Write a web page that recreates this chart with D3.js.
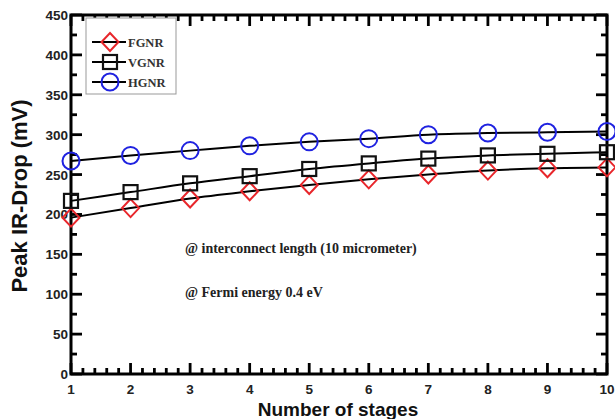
<!DOCTYPE html>
<html>
<head>
<meta charset="utf-8">
<script src="https://cdn.jsdelivr.net/npm/d3@7"></script>
<style>
  body { margin: 0; background: #fff; }
  svg { display: block; }
  .sans { font-family: "Liberation Sans", Arial, sans-serif; font-weight: bold; }
  .serif { font-family: "Liberation Serif", "Times New Roman", serif; font-weight: bold; }
</style>
</head>
<body>
<svg id="chart" width="615" height="419"></svg>
<script>
// data
const stages = [1, 2, 3, 4, 5, 6, 7, 8, 9, 10];
const fgnr = [196, 208, 220, 229, 237, 244, 250, 255, 258, 259];
const vgnr = [217, 228, 239, 248, 257, 264, 270, 274, 276, 278];
const hgnr = [267, 274, 280, 286, 291, 295, 300, 302, 303, 304];
const yTicks = [0, 50, 100, 150, 200, 250, 300, 350, 400, 450];
const xTicks = [1, 2, 3, 4, 5, 6, 7, 8, 9, 10];

const width = 615, height = 419;
const margin = { left: 71, right: 8, top: 15, bottom: 45 };

const svg = d3.select("#chart");

const x = d3.scaleLinear().domain([1, 10]).range([margin.left, width - margin.right]);
const y = d3.scaleLinear().domain([0, 450]).range([height - margin.bottom, margin.top]);

const x0 = x.range()[0], x1 = x.range()[1];
const y0 = y.range()[0], y1 = y.range()[1];

// ticks (all pointing inward)
const xMinor = d3.range(1, 10.001, 0.2).filter(v => Math.abs(v - Math.round(v)) > 0.01);
const yMinor = d3.range(25, 450, 50);
const tk = svg.append("g").attr("stroke", "#000").attr("stroke-width", 2.8);

xTicks.forEach(v => {
  tk.append("line").attr("x1", x(v)).attr("x2", x(v)).attr("y1", y0).attr("y2", y0 - 11);
  tk.append("line").attr("x1", x(v)).attr("x2", x(v)).attr("y1", y1).attr("y2", y1 + 11);
});
xMinor.forEach(v => {
  tk.append("line").attr("x1", x(v)).attr("x2", x(v)).attr("y1", y0).attr("y2", y0 - 6);
  tk.append("line").attr("x1", x(v)).attr("x2", x(v)).attr("y1", y1).attr("y2", y1 + 6);
});
yTicks.forEach(v => {
  tk.append("line").attr("x1", x0).attr("x2", x0 + 11).attr("y1", y(v)).attr("y2", y(v));
  tk.append("line").attr("x1", x1).attr("x2", x1 - 11).attr("y1", y(v)).attr("y2", y(v));
});
yMinor.forEach(v => {
  tk.append("line").attr("x1", x0).attr("x2", x0 + 6).attr("y1", y(v)).attr("y2", y(v));
  tk.append("line").attr("x1", x1).attr("x2", x1 - 6).attr("y1", y(v)).attr("y2", y(v));
});

// frame
svg.append("rect")
  .attr("x", x0).attr("y", y1)
  .attr("width", x1 - x0).attr("height", y0 - y1)
  .attr("fill", "none").attr("stroke", "#000").attr("stroke-width", 3);

// tick labels
svg.append("g").selectAll("text").data(xTicks).join("text")
  .attr("class", "sans")
  .attr("x", d => x(d)).attr("y", y0 + 20)
  .attr("text-anchor", "middle")
  .attr("font-size", 13.5)
  .attr("fill", "#222")
  .text(d => d);

svg.append("g").selectAll("text").data(yTicks).join("text")
  .attr("class", "sans")
  .attr("x", x0 - 3).attr("y", d => y(d) + 5)
  .attr("text-anchor", "end")
  .attr("font-size", 13.5)
  .attr("fill", "#222")
  .text(d => d);

// axis titles
svg.append("text")
  .attr("class", "sans")
  .attr("x", 338).attr("y", 416)
  .attr("text-anchor", "middle")
  .attr("font-size", 19)
  .attr("fill", "#111")
  .text("Number of stages");

svg.append("text")
  .attr("class", "sans")
  .attr("transform", `translate(27, 196) rotate(-90)`)
  .attr("text-anchor", "middle")
  .attr("font-size", 22)
  .attr("fill", "#111")
  .text("Peak IR-Drop (mV)");

// series
const series = [
  { name: "FGNR", values: fgnr, color: "#e8262b", shape: "diamond" },
  { name: "VGNR", values: vgnr, color: "#111", shape: "square" },
  { name: "HGNR", values: hgnr, color: "#1f22e0", shape: "circle" }
];

const line = d3.line()
  .x((d, i) => x(stages[i]))
  .y(d => y(d))
  .curve(d3.curveMonotoneX);

function marker(g, shape, cx, cy, color) {
  if (shape === "circle") {
    g.append("circle").attr("cx", cx).attr("cy", cy).attr("r", 8.5)
      .attr("fill", "none").attr("stroke", color).attr("stroke-width", 2);
  } else if (shape === "square") {
    g.append("rect").attr("x", cx - 7).attr("y", cy - 7).attr("width", 14).attr("height", 14)
      .attr("fill", "none").attr("stroke", color).attr("stroke-width", 2.2);
  } else {
    g.append("path")
      .attr("d", `M${cx},${cy - 9}L${cx + 8.5},${cy}L${cx},${cy + 9}L${cx - 8.5},${cy}Z`)
      .attr("fill", "none").attr("stroke", color).attr("stroke-width", 2);
  }
}

series.forEach(s => {
  svg.append("path")
    .datum(s.values)
    .attr("d", line)
    .attr("fill", "none").attr("stroke", "#000").attr("stroke-width", 2);
});
series.forEach(s => {
  const g = svg.append("g");
  s.values.forEach((v, i) => marker(g, s.shape, x(stages[i]), y(v), s.color));
});

// legend
const lg = svg.append("g");
lg.append("rect")
  .attr("x", 86).attr("y", 18).attr("width", 90).attr("height", 76)
  .attr("fill", "#fff").attr("stroke", "#999").attr("stroke-width", 1);
series.forEach((s, i) => {
  const ly = 42 + i * 20;
  lg.append("line").attr("x1", 92).attr("x2", 126).attr("y1", ly).attr("y2", ly)
    .attr("stroke", "#000").attr("stroke-width", 2);
  marker(lg, s.shape, 110, ly, s.color);
  lg.append("text")
    .attr("class", "serif")
    .attr("x", 128).attr("y", ly + 4.5)
    .attr("font-size", 12.5)
    .attr("fill", "#333")
    .text(s.name);
});

// annotations
const notes = ["@ interconnect length (10 micrometer)", "@ Fermi energy 0.4 eV"];
svg.append("g").selectAll("text").data(notes).join("text")
  .attr("class", "serif")
  .attr("x", 185).attr("y", (d, i) => 253 + i * 44)
  .attr("font-size", 14)
  .attr("fill", "#222")
  .text(d => d);
</script>
</body>
</html>
